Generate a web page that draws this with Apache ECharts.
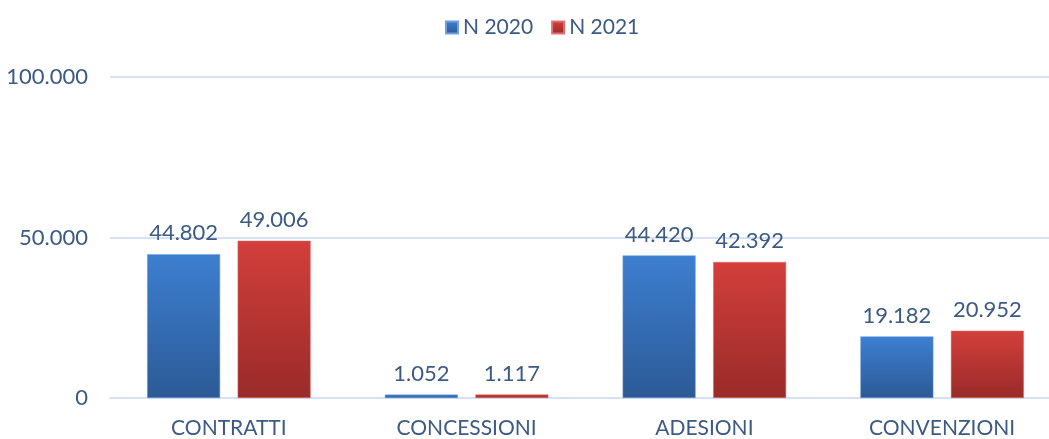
<!DOCTYPE html>
<html>
<head>
<meta charset="utf-8">
<style>html,body{margin:0;padding:0;background:#fff;overflow:hidden}#c{width:1062px;height:439px}</style>
<script src="https://cdn.jsdelivr.net/npm/echarts@6/dist/echarts.min.js"></script>
</head>
<body>
<div id="c"></div>
<script>
var categories = ['CONTRATTI', 'CONCESSIONI', 'ADESIONI', 'CONVENZIONI'];
var seriesNames = ['N 2020', 'N 2021'];
var values2020 = [44802, 1052, 44420, 19182];
var values2021 = [49006, 1117, 42392, 20952];
var yTicks = [0, 50000, 100000];

function fmt(v) {
  return String(v).replace(/\B(?=(\d{3})+(?!\d))/g, '.');
}
var textColor = '#3c5a82';
var font = 'Lato';
function grad(top, bottom) {
  return new echarts.graphic.LinearGradient(0, 0, 0, 1, [
    {offset: 0, color: top}, {offset: 1, color: bottom}
  ]);
}
var chart = echarts.init(document.getElementById('c'));
chart.setOption({
  animation: false,
  textStyle: {fontFamily: font},
  legend: {
    top: 12,
    left: 440,
    icon: 'rect',
    itemWidth: 12,
    itemHeight: 12,
    itemGap: 18,
    textStyle: {color: textColor, fontSize: 21, fontFamily: font},
    data: seriesNames
  },
  grid: {left: 110, top: 77, bottom: 41, right: 1, containLabel: false},
  xAxis: {
    type: 'category',
    data: categories,
    axisLine: {show: true, lineStyle: {color: '#d6e2f1', width: 2}},
    axisTick: {show: false},
    axisLabel: {color: textColor, fontSize: 21, margin: 20, fontFamily: font}
  },
  yAxis: {
    type: 'value',
    min: yTicks[0],
    max: yTicks[yTicks.length - 1],
    interval: yTicks[1] - yTicks[0],
    axisLine: {show: false},
    axisTick: {show: false},
    splitLine: {lineStyle: {color: '#d6e2f1', width: 2}},
    axisLabel: {color: textColor, fontSize: 22, margin: 22, fontFamily: font, formatter: fmt}
  },
  series: [
    {
      name: seriesNames[0], type: 'bar', data: values2020,
      barWidth: '30.7%', barGap: '24%',
      itemStyle: {color: grad('#3d7fd0', '#2c5a96'), borderColor: '#6d9fe0', borderWidth: 0.5},
      label: {show: true, position: 'top', distance: 10, color: textColor, fontSize: 22, fontFamily: font, formatter: function (p) { return fmt(p.value); }}
    },
    {
      name: seriesNames[1], type: 'bar', data: values2021,
      barWidth: '30.7%', barGap: '24%',
      itemStyle: {color: grad('#d33f3c', '#992b29'), borderColor: '#e07070', borderWidth: 0.5},
      label: {show: true, position: 'top', distance: 10, color: textColor, fontSize: 22, fontFamily: font, formatter: function (p) { return fmt(p.value); }}
    }
  ]
});
</script>
</body>
</html>
